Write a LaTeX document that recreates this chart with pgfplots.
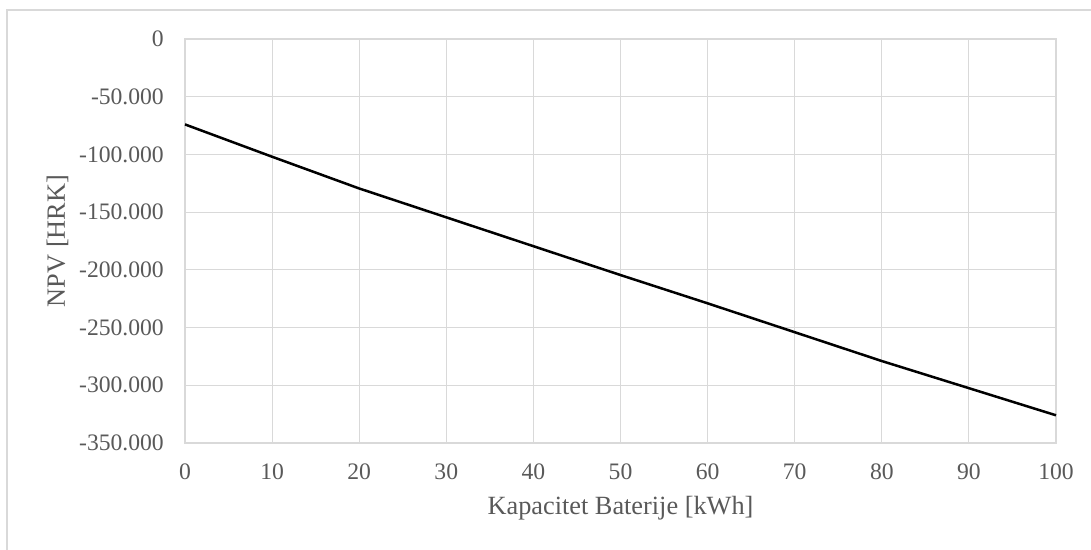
\documentclass[border=0pt]{standalone}
\usepackage{pgfplots}
\pgfplotsset{compat=1.18}
\usepackage{fontspec}
\setmainfont{Liberation Serif}
\definecolor{gridc}{HTML}{D9D9D9}
\definecolor{txt}{HTML}{595959}
\begin{document}
\begin{tikzpicture}
\useasboundingbox (0,0) rectangle (1091bp,550bp);
\draw[gridc, line width=1.6bp] (7bp,0) -- (7bp,540bp) -- (1091bp,540bp);
\begin{axis}[
  at={(185bp,107bp)}, anchor=south west,
  scale only axis, width=871bp, height=404bp,
  xmin=0, xmax=100, ymin=-350000, ymax=0,
  scaled y ticks=false, scaled x ticks=false,
  xtick={0,10,...,100},
  ytick={-350000,-300000,-250000,-200000,-150000,-100000,-50000,0},
  yticklabels={-350.000,-300.000,-250.000,-200.000,-150.000,-100.000,-50.000,0},
  xticklabels={0,10,20,30,40,50,60,70,80,90,100},
  major tick length=0pt,
  grid=major,
  grid style={gridc, line width=1.1bp},
  axis line style={gridc, line width=1.1bp},
  tick label style={font=\fontsize{23.7}{28}\selectfont, text=txt, inner sep=0pt},
  yticklabel style={anchor=east, xshift=-21bp},
  xticklabel style={anchor=north, yshift=-21bp},
  label style={font=\fontsize{26.4}{30}\selectfont, text=txt},
  xlabel={Kapacitet Baterije [kWh]},
  ylabel={NPV [HRK]},
  xlabel style={at={(axis description cs:0.5,-0.1609)}, anchor=center, inner sep=0pt},
  ylabel style={at={(axis description cs:-0.1464,0.5)}, anchor=center, inner sep=0pt},
  clip=false,
]
\addplot[black, line width=2.5bp] coordinates {
(0,-74000) (10,-102000) (20,-129500) (30,-154500) (40,-179500) (50,-204500)
(60,-229000) (70,-254000) (80,-279000) (90,-302500) (100,-326000)};
\end{axis}
\end{tikzpicture}
\end{document}
